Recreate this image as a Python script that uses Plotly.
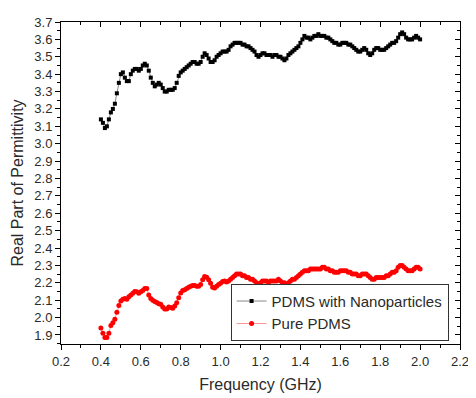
import numpy as np
import plotly.graph_objects as go

freq = [round(0.40 + 0.01 * i, 2) for i in range(161)]

nano = [
    3.14, 3.12, 3.09, 3.10, 3.14, 3.18, 3.20, 3.23, 3.29, 3.35,
    3.40, 3.41, 3.38, 3.36, 3.36, 3.40, 3.42, 3.43, 3.43, 3.42,
    3.43, 3.45, 3.46, 3.45, 3.42, 3.38, 3.35, 3.33, 3.34, 3.35,
    3.34, 3.32, 3.30, 3.30, 3.31, 3.31, 3.31, 3.32, 3.35, 3.39,
    3.41, 3.42, 3.43, 3.44, 3.45, 3.46, 3.47, 3.47, 3.46, 3.46,
    3.47, 3.50, 3.52, 3.51, 3.49, 3.47, 3.47, 3.48, 3.50, 3.51,
    3.52, 3.53, 3.53, 3.53, 3.54, 3.56, 3.57, 3.58, 3.58, 3.58,
    3.58, 3.57, 3.57, 3.56, 3.56, 3.55, 3.54, 3.53, 3.51, 3.50,
    3.51, 3.52, 3.52, 3.51, 3.51, 3.51, 3.50, 3.51, 3.51, 3.50,
    3.50, 3.49, 3.48, 3.49, 3.51, 3.52, 3.53, 3.54, 3.55, 3.56,
    3.58, 3.60, 3.62, 3.61, 3.61, 3.60, 3.61, 3.62, 3.62, 3.63,
    3.62, 3.62, 3.62, 3.61, 3.61, 3.60, 3.59, 3.58, 3.58, 3.57,
    3.57, 3.58, 3.58, 3.58, 3.57, 3.57, 3.56, 3.55, 3.54, 3.53,
    3.53, 3.54, 3.55, 3.54, 3.52, 3.51, 3.52, 3.54, 3.55, 3.55,
    3.54, 3.54, 3.54, 3.55, 3.56, 3.57, 3.58, 3.58, 3.59, 3.61,
    3.63, 3.64, 3.63, 3.61, 3.60, 3.60, 3.60, 3.61, 3.62, 3.61,
    3.60,
]

pure = [
    1.94, 1.91, 1.885, 1.885, 1.91, 1.955, 1.97, 1.99, 2.03, 2.07,
    2.095, 2.105, 2.11, 2.105, 2.12, 2.13, 2.14, 2.15, 2.148, 2.14,
    2.148, 2.155, 2.167, 2.167, 2.13, 2.11, 2.10, 2.092, 2.087, 2.08,
    2.077, 2.061, 2.049, 2.049, 2.061, 2.058, 2.054, 2.066, 2.085, 2.114,
    2.142, 2.155, 2.16, 2.167, 2.175, 2.18, 2.185, 2.185, 2.18, 2.18,
    2.19, 2.217, 2.236, 2.232, 2.217, 2.198, 2.175, 2.17, 2.18, 2.19,
    2.198, 2.208, 2.21, 2.205, 2.21, 2.22, 2.23, 2.24, 2.25, 2.25,
    2.25, 2.24, 2.24, 2.23, 2.23, 2.22, 2.22, 2.21, 2.20, 2.19,
    2.20, 2.21, 2.21, 2.21, 2.20, 2.21, 2.21, 2.21, 2.21, 2.22,
    2.21, 2.20, 2.20, 2.19, 2.20, 2.21, 2.22, 2.22, 2.23, 2.24,
    2.25, 2.26, 2.27, 2.27, 2.27, 2.28, 2.28, 2.28, 2.28, 2.28,
    2.28, 2.29, 2.29, 2.28, 2.28, 2.27, 2.27, 2.26, 2.26, 2.26,
    2.27, 2.27, 2.27, 2.27, 2.26, 2.26, 2.25, 2.25, 2.25, 2.24,
    2.24, 2.25, 2.25, 2.25, 2.24, 2.23, 2.22, 2.22, 2.23, 2.23,
    2.23, 2.23, 2.23, 2.24, 2.24, 2.25, 2.26, 2.26, 2.27, 2.29,
    2.30, 2.30, 2.29, 2.28, 2.27, 2.27, 2.27, 2.28, 2.29, 2.29,
    2.28,
]

x_range = [0.2, 2.2]
y_range = [1.848, 3.7]

FONT = "Liberation Sans, Arial, sans-serif"

fig = go.Figure()
fig.add_trace(go.Scatter(
    x=freq, y=nano, mode="lines+markers", name="PDMS with Nanoparticles",
    line=dict(color="#555555", width=0.7),
    marker=dict(symbol="square", size=4, color="black"),
))
fig.add_trace(go.Scatter(
    x=freq, y=pure, mode="lines+markers", name="Pure PDMS",
    line=dict(color="#ff6666", width=0.7),
    marker=dict(symbol="circle", size=5, color="red"),
))
# helper trace to register top/right mirror axes
fig.add_trace(go.Scatter(x=[None], y=[None], xaxis="x2", yaxis="y2",
                         showlegend=False, hoverinfo="skip"))

axis_common = dict(showgrid=False, zeroline=False, linecolor="black", linewidth=1)

# page body has an 8px default margin, so the figure is sized to fill the
# remaining part of the 476x398 window
fig.update_layout(
    width=468, height=390,
    margin=dict(l=53, r=10, t=7, b=46),
    paper_bgcolor="white", plot_bgcolor="white",
    font=dict(family=FONT, size=13, color="#2a2a2a"),
    showlegend=True,
    legend=dict(x=0.425, y=0.01, xanchor="left", yanchor="bottom",
                bordercolor="#333333", borderwidth=1, bgcolor="white",
                font=dict(family=FONT, size=15, color="#2a2a2a"),
                tracegroupgap=0, itemwidth=30),
    xaxis=dict(range=x_range, dtick=0.2, tick0=0.2, ticks="outside", ticklen=5,
               tickcolor="black", mirror=True, showline=True, tickformat=".1f",
               ticklabeloverflow="allow",
               minor=dict(dtick=0.1, ticks="outside", ticklen=3, tickcolor="black"),
               title=dict(text="Frequency (GHz)", font=dict(size=16), standoff=11),
               **axis_common),
    yaxis=dict(range=y_range, dtick=0.1, tick0=1.9, ticks="outside", ticklen=5,
               tickcolor="black", mirror=True, showline=True, tickformat=".1f",
               ticklabeloverflow="allow",
               minor=dict(dtick=0.05, ticks="outside", ticklen=3, tickcolor="black"),
               title=dict(text="Real Part of Permittivity", font=dict(size=16), standoff=6),
               **axis_common),
    xaxis2=dict(range=x_range, overlaying="x", side="top", dtick=0.2, tick0=0.2,
                ticks="inside", ticklen=5, tickcolor="black", showticklabels=False,
                minor=dict(dtick=0.1, ticks="inside", ticklen=3, tickcolor="black"),
                showgrid=False, zeroline=False, showline=False),
    yaxis2=dict(range=y_range, overlaying="y", side="right", dtick=0.1, tick0=1.9,
                ticks="inside", ticklen=5, tickcolor="black", showticklabels=False,
                minor=dict(dtick=0.05, ticks="inside", ticklen=3, tickcolor="black"),
                showgrid=False, zeroline=False, showline=False),
)

fig.write_html("out.html")
